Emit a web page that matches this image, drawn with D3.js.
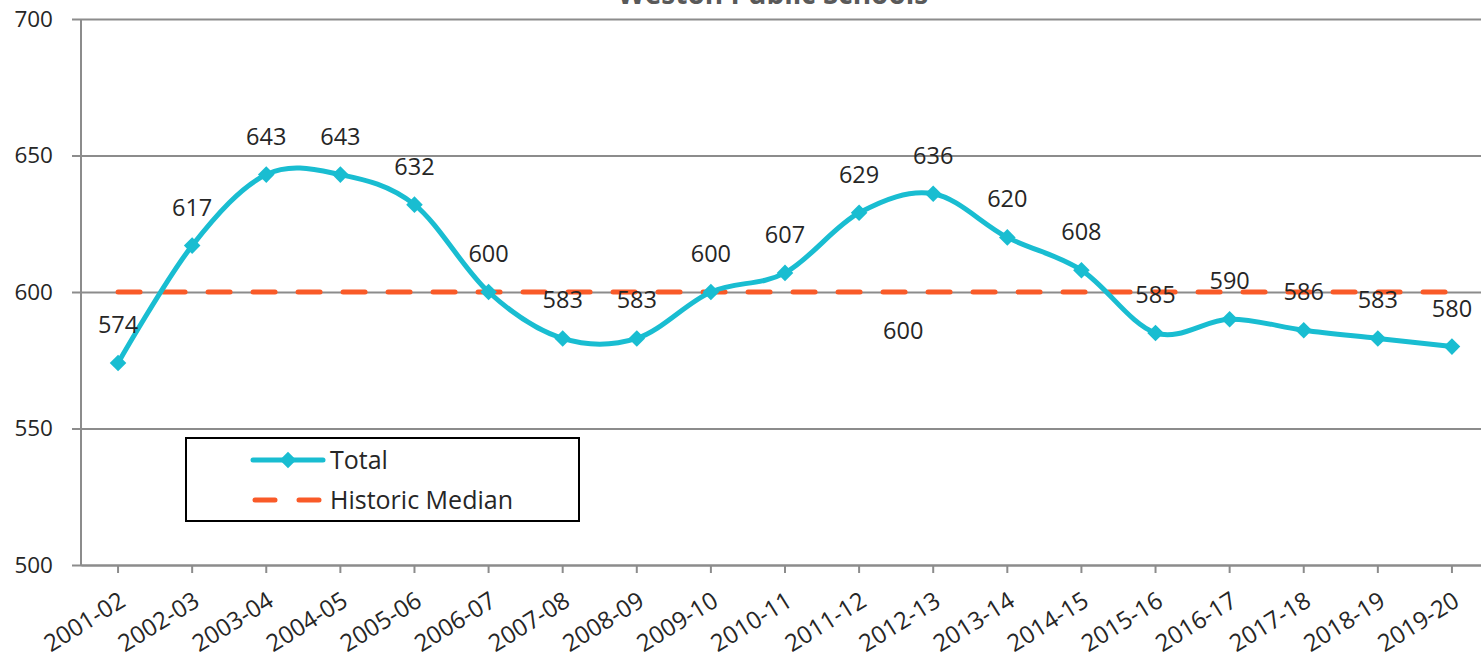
<!DOCTYPE html>
<html>
<head>
<meta charset="utf-8">
<script src="https://cdn.jsdelivr.net/npm/d3@7"></script>
<style>
  body { margin: 0; background: #fff; }
  svg { display: block; font-family: "Open Sans", "Noto Sans", sans-serif; }
</style>
</head>
<body>
<div id="main"></div>
<script>
// chart data
var years = ["2001-02", "2002-03", "2003-04", "2004-05", "2005-06", "2006-07", "2007-08",
	"2008-09", "2009-10", "2010-11", "2011-12", "2012-13", "2013-14", "2014-15",
	"2015-16", "2016-17", "2017-18", "2018-19", "2019-20"];
var totals = [574, 617, 643, 643, 632, 600, 583, 583, 600, 607, 629, 636, 620, 608, 585, 590, 586, 583, 580];
var medianValue = 600;
var yTicks = [500, 550, 600, 650, 700];
var seriesNames = ["Total", "Historic Median"];

var W = 1481, H = 663;
var margin = { top: 19, left: 81, right: -8, bottom: 98 };
var cyan = "#19BDD1", orange = "#F95A28", grid = "#8c8c8c";

var svg = d3.select("#main").append("svg")
	.attr("width", W)
	.attr("height", H);

// title, mostly above the visible area like in the original crop
svg.append("text")
	.attr("x", 773).attr("y", 4)
	.attr("text-anchor", "middle")
	.attr("font-size", 28).attr("font-weight", "bold")
	.attr("fill", "#595959")
	.text("Weston Public Schools");

var x = d3.scaleBand()
	.domain(years)
	.range([margin.left, W - margin.right]);

var y = d3.scaleLinear()
	.domain([500, 700])
	.range([H - margin.bottom, margin.top]);

var cx = function(d) { return x(d) + x.bandwidth() / 2; };

// gridlines + y axis
var yAxis = svg.append("g")
	.attr("transform", "translate(" + margin.left + ",0)")
	.call(d3.axisLeft(y).tickValues(yTicks).tickSize(9).tickPadding(19).tickFormat(d3.format("d")));
yAxis.select(".domain").remove();
yAxis.selectAll(".tick line").attr("stroke", grid).attr("stroke-width", 2)
	.attr("x2", -9).attr("x1", W);
yAxis.selectAll(".tick text").attr("font-size", 22.5).attr("fill", "#262626")
	.attr("font-family", "Open Sans, sans-serif");

svg.append("line")
	.attr("x1", margin.left).attr("x2", margin.left)
	.attr("y1", y(700)).attr("y2", y(500))
	.attr("stroke", grid).attr("stroke-width", 2);

// x axis
var xAxis = svg.append("g")
	.attr("transform", "translate(0," + y(500) + ")")
	.call(d3.axisBottom(x).tickSize(8).tickSizeOuter(0));
xAxis.select(".domain").attr("stroke", grid).attr("stroke-width", 2);
xAxis.selectAll(".tick line").attr("stroke", grid).attr("stroke-width", 2);
xAxis.selectAll(".tick text")
	.attr("font-size", 24).attr("fill", "#262626")
	.attr("font-family", "Open Sans, sans-serif")
	.attr("text-anchor", "end")
	.attr("x", 0).attr("y", 0)
	.attr("dy", null)
	.attr("transform", "translate(9,40) rotate(-32)");

// historic median
svg.append("line")
	.attr("x1", cx(years[0])).attr("x2", cx(years[years.length - 1]))
	.attr("y1", y(medianValue)).attr("y2", y(medianValue))
	.attr("stroke", orange).attr("stroke-width", 5)
	.attr("stroke-dasharray", "22,23")
	.attr("stroke-linecap", "round");

// total line
var line = d3.line()
	.x(function(d, i) { return cx(years[i]); })
	.y(function(d) { return y(d); })
	.curve(d3.curveCardinal);

svg.append("path")
	.datum(totals)
	.attr("d", line)
	.attr("fill", "none")
	.attr("stroke", cyan)
	.attr("stroke-width", 5);

var diamond = d3.symbol().type(d3.symbolDiamond2).size(175);

svg.selectAll(".pt")
	.data(totals)
	.enter().append("path")
	.attr("class", "pt")
	.attr("d", diamond)
	.attr("transform", function(d, i) { return "translate(" + cx(years[i]) + "," + y(d) + ")"; })
	.attr("fill", cyan);

svg.selectAll(".lbl")
	.data(totals)
	.enter().append("text")
	.attr("class", "lbl")
	.attr("x", function(d, i) { return cx(years[i]); })
	.attr("y", function(d) { return y(d) - 30; })
	.attr("text-anchor", "middle")
	.attr("font-size", 23.5).attr("fill", "#262626")
	.text(function(d) { return d; });

// median data label
svg.append("text")
	.attr("x", cx(years[11]) - 30)
	.attr("y", y(medianValue) + 47)
	.attr("text-anchor", "middle")
	.attr("font-size", 23.5).attr("fill", "#262626")
	.text(medianValue);

// legend
var lg = svg.append("g").attr("transform", "translate(186,438)");
lg.append("rect")
	.attr("width", 393).attr("height", 83)
	.attr("fill", "#fff").attr("stroke", "#000").attr("stroke-width", 2);
lg.append("line")
	.attr("x1", 67).attr("x2", 137).attr("y1", 22).attr("y2", 22)
	.attr("stroke", cyan).attr("stroke-width", 5).attr("stroke-linecap", "round");
lg.append("path")
	.attr("d", diamond)
	.attr("transform", "translate(102,22)")
	.attr("fill", cyan);
lg.append("line")
	.attr("x1", 69).attr("x2", 136).attr("y1", 62).attr("y2", 62)
	.attr("stroke", orange).attr("stroke-width", 5)
	.attr("stroke-dasharray", "20,24").attr("stroke-linecap", "round");
lg.selectAll(".lt")
	.data(seriesNames)
	.enter().append("text")
	.attr("x", 144)
	.attr("y", function(d, i) { return 22 + i * 40; })
	.attr("dy", "0.35em")
	.attr("font-size", 25).attr("fill", "#262626")
	.text(function(d) { return d; });
</script>
</body>
</html>
